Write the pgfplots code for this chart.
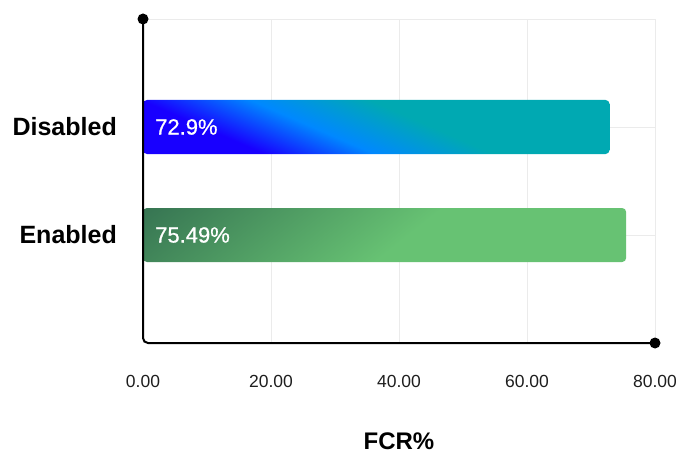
\documentclass[border=0pt]{standalone}
\usepackage{pgfplots}
\pgfplotsset{compat=1.18}
\usepackage{pgfplotstable}
\usepackage{fontspec}
\setmainfont{Liberation Sans}
\newfontfamily\medfont{Liberation Sans}[FakeBold=0.7]

\definecolor{gridgray}{HTML}{EBEBEB}
\definecolor{ticktext}{HTML}{1E1E1E}

% Diagonal gradients for the bars, as functions of the position in the bar.
% x runs 25..75 across the bar length, y 25..75 across its height.
% Blue: #1800FF -> #0088FF -> #00A9B2 along a steep diagonal.
\pgfdeclarefunctionalshading{bluebar}{\pgfpoint{0bp}{0bp}}{\pgfpoint{100bp}{100bp}}{}{
  2.484 mul exch 9.332 mul add 357.5 sub
  dup 60 sub 110 div dup 0 lt {pop 0} if dup 1 gt {pop 1} if
  exch 170 sub 120 div dup 0 lt {pop 0} if dup 1 gt {pop 1} if
  1 index -0.094 mul 0.094 add
  2 index 0.533 mul 2 index 0.130 mul add
  2 index -0.302 mul 1 add
  5 3 roll pop pop
}
% Green: #367452 -> #67C273, dark in the upper left corner.
\pgfdeclarefunctionalshading{greenbar}{\pgfpoint{0bp}{0bp}}{\pgfpoint{100bp}{100bp}}{}{
  -1.35 mul exch 9.662 mul add 174.05 sub
  34 add 300 div dup 0 lt {pop 0} if dup 1 gt {pop 1} if
  dup 0.192 mul 0.212 add exch
  dup 0.306 mul 0.455 add exch
  0.129 mul 0.322 add
}

% FCR (%) per setting; pos 1 = Disabled, pos 0 = Enabled
\pgfplotstableread{
pos value
1 72.9
0 75.49
}\fcrdata

\begin{document}
\begin{tikzpicture}
\begin{axis}[
  at={(143pt,112pt)}, anchor=south west,
  scale only axis, width=512pt, height=324pt,
  xmin=0, xmax=80, ymin=-1, ymax=2,
  clip=false,
  axis line style={draw=none},
  tick style={draw=none},
  major tick length=0pt,
  xtick={0,20,40,60,80},
  xticklabels={0.00,20.00,40.00,60.00,80.00},
  ytick={0,1,2},
  yticklabels={Enabled,Disabled,{}},
  grid=major,
  major grid style={gridgray, line width=0.8pt},
  xticklabel style={font=\fontsize{17.5}{20}\selectfont, text=ticktext, inner sep=0pt, yshift=-32pt},
  yticklabel style={font=\bfseries\fontsize{25}{30}\selectfont, text=black, inner sep=0pt, xshift=-26pt},
  xlabel={FCR\%},
  xlabel style={font=\bfseries\fontsize{24}{28}\selectfont, at={(axis description cs:0.5,0)}, anchor=center, yshift=-98pt},
  /pgf/number format/assume math mode=true,
]
\addplot[xbar, bar shift=0pt, bar width=54pt, draw=none, shade, shading=bluebar, rounded corners=4pt]
  table[x=value, y=pos, restrict y to domain=0.5:1.5] {\fcrdata};
\addplot[xbar, bar shift=0pt, bar width=54pt, draw=none, shade, shading=greenbar, rounded corners=4pt]
  table[x=value, y=pos, restrict y to domain=-0.5:0.5] {\fcrdata};
% value labels at the start of each bar
\addplot[draw=none, mark=none, point meta=explicit,
  nodes near coords={\pgfmathprintnumber{\pgfplotspointmeta}\%},
  nodes near coords style={anchor=west, xshift=12pt, text=white, inner sep=0pt, font=\medfont\fontsize{22}{26}\selectfont}]
  table[x expr=0, y=pos, meta=value] {\fcrdata};
% axis lines with end dots
\draw[line width=2pt, rounded corners=5pt] (rel axis cs:0,1) -- (rel axis cs:0,0) -- (rel axis cs:1,0);
\fill (rel axis cs:0,1) circle (5.5pt);
\fill (rel axis cs:1,0) circle (5.5pt);
\end{axis}
\pgfresetboundingbox
\path (0pt,0pt) rectangle (676pt,455pt);
\end{tikzpicture}
\end{document}
